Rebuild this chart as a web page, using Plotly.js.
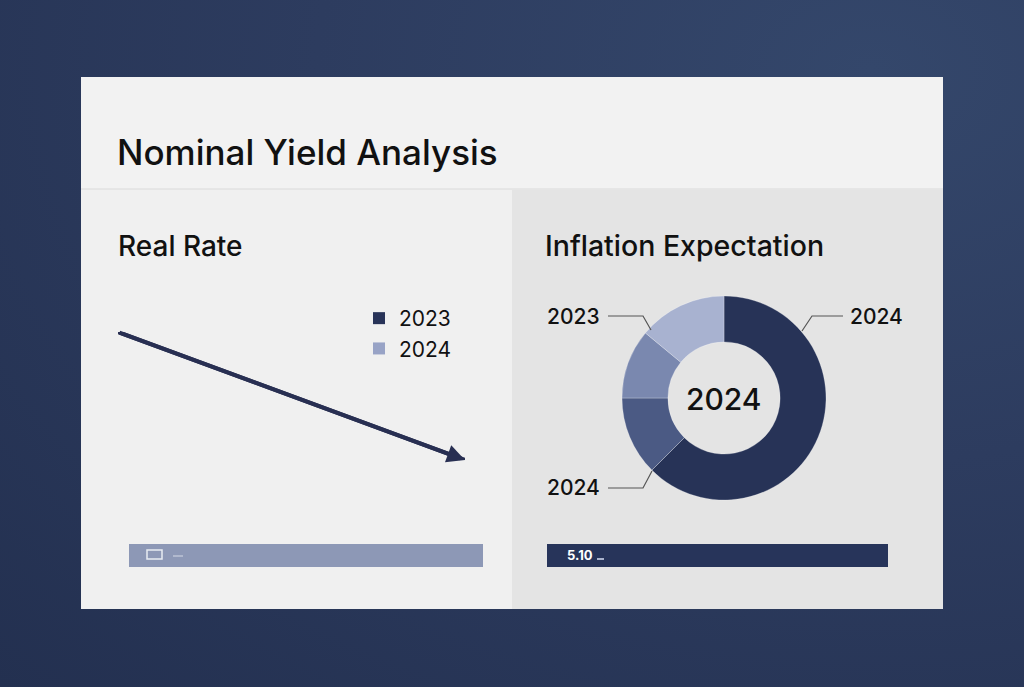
<!DOCTYPE html>
<html>
<head>
<meta charset="utf-8">
<script src="https://cdn.plot.ly/plotly-3.0.1.min.js"></script>
<style>
  html, body { margin: 0; padding: 0; }
  body {
    width: 1024px; height: 687px; overflow: hidden;
    background: radial-gradient(ellipse at 85% 10%, #34476b 0%, #2d3c5f 45%, #233050 100%);
  }
  #chart { width: 1024px; height: 687px; }
</style>
</head>
<body>
<div id="chart"></div>
<script>
// real rate trend (left panel)
const rateX = [1, 2];
const rateY = [2.6, 0.8];
const legendYears = ["2023", "2024"];
const legendColors = ["#283358", "#98a3c6"];

// inflation expectation donut (right panel)
const sliceLabels = ["2024 H2", "2024 H1", "2023 H2", "2023 H1"];
const sliceValues = [62.5, 12.5, 11, 14];
const sliceColors = ["#273357", "#4b5a84", "#7a88af", "#a8b2d0"];
const calloutText = ["2024", "2023", "2024"];
const centerText = "2024";
const barText = "5.10";

const W = 1024, H = 687;
function px(x) { return x / W; }
function py(y) { return 1 - y / H; }

function generateChart() {

    let font = 'Inter, "Noto Sans", sans-serif';

    let rateLine = {
        x: rateX,
        y: rateY,
        type: 'scatter',
        mode: 'lines',
        line: { color: '#282f52', width: 4 },
        showlegend: false,
        hoverinfo: 'skip',
        xaxis: 'x',
        yaxis: 'y'
    };

    let legendTraces = legendYears.map((yr, i) => ({
        x: [null],
        y: [null],
        type: 'bar',
        name: yr,
        marker: { color: legendColors[i] },
        xaxis: 'x2',
        yaxis: 'y2'
    }));

    let donut = {
        type: 'pie',
        labels: sliceLabels,
        values: sliceValues,
        hole: 0.55,
        sort: false,
        direction: 'clockwise',
        rotation: 0,
        textinfo: 'none',
        hoverinfo: 'label+value',
        showlegend: false,
        marker: { colors: sliceColors, line: { color: 'rgba(255,255,255,0.25)', width: 1 } },
        domain: { x: [px(622), px(826)], y: [py(500), py(296)] }
    };

    let shapes = [
        // card
        { type: 'rect', xref: 'paper', yref: 'paper', x0: px(81), x1: px(943), y0: py(609), y1: py(77),
          fillcolor: '#f0f0f0', line: { width: 0 }, layer: 'below' },
        // header
        { type: 'rect', xref: 'paper', yref: 'paper', x0: px(81), x1: px(943), y0: py(189), y1: py(77),
          fillcolor: '#f2f2f2', line: { width: 0 }, layer: 'below' },
        { type: 'line', xref: 'paper', yref: 'paper', x0: px(81), x1: px(943), y0: py(189), y1: py(189),
          line: { color: '#e2e2e2', width: 1.5 }, layer: 'below' },
        // right panel
        { type: 'rect', xref: 'paper', yref: 'paper', x0: px(512), x1: px(943), y0: py(609), y1: py(190),
          fillcolor: '#e4e4e4', line: { width: 0 }, layer: 'below' },
        // bottom bars
        { type: 'rect', xref: 'paper', yref: 'paper', x0: px(129), x1: px(483), y0: py(567), y1: py(544),
          fillcolor: '#8d98b6', line: { width: 0 }, layer: 'below' },
        { type: 'rect', xref: 'paper', yref: 'paper', x0: px(147), x1: px(162), y0: py(559), y1: py(550),
          fillcolor: 'rgba(0,0,0,0)', line: { color: '#e8ebf2', width: 1.5 } },
        { type: 'line', xref: 'paper', yref: 'paper', x0: px(173), x1: px(183), y0: py(556), y1: py(556),
          line: { color: '#d5dae6', width: 1 } },
        { type: 'rect', xref: 'paper', yref: 'paper', x0: px(547), x1: px(888), y0: py(567), y1: py(544),
          fillcolor: '#27345a', line: { width: 0 }, layer: 'below' },
        { type: 'line', xref: 'paper', yref: 'paper', x0: px(597), x1: px(604), y0: py(559), y1: py(559),
          line: { color: '#aab3cc', width: 2 } },
        // leader lines
        { type: 'path', xref: 'paper', yref: 'paper',
          path: `M ${px(843)},${py(316)} L ${px(812)},${py(316)} L ${px(802)},${py(331)}`,
          line: { color: '#555', width: 1.2 } },
        { type: 'path', xref: 'paper', yref: 'paper',
          path: `M ${px(608)},${py(316)} L ${px(643)},${py(316)} L ${px(651)},${py(330)}`,
          line: { color: '#555', width: 1.2 } },
        { type: 'path', xref: 'paper', yref: 'paper',
          path: `M ${px(608)},${py(488)} L ${px(643)},${py(488)} L ${px(652)},${py(471)}`,
          line: { color: '#555', width: 1.2 } }
    ];

    function label(text, x, y, size, anchor, color, weight) {
        return {
            text: text, xref: 'paper', yref: 'paper', x: px(x), y: py(y),
            xanchor: anchor || 'left', yanchor: 'middle', showarrow: false,
            font: { family: font, size: size, color: color || '#111', weight: weight || 500 }
        };
    }

    let annotations = [
        label('Nominal Yield Analysis', 115, 152, 35),
        label('Real Rate', 116, 246, 28),
        label('Inflation Expectation', 543, 246, 28.5),
        label(calloutText[0], 848, 316, 21),
        label(calloutText[1], 545, 316, 21),
        label(calloutText[2], 545, 488, 21),
        label(centerText, 724, 399, 30, 'center'),
        label(barText, 565, 555, 13, 'left', '#ffffff', 700),
        // arrowhead at the end of the trend line
        {
            x: rateX[1], y: rateY[1], ax: rateX[0], ay: rateY[0],
            xref: 'x', yref: 'y', axref: 'x', ayref: 'y',
            text: '', showarrow: true, arrowhead: 2, arrowsize: 0.9, arrowwidth: 4,
            arrowcolor: '#282f52', standoff: 0
        }
    ];

    let layout = {
        width: W,
        height: H,
        margin: { l: 0, r: 0, t: 0, b: 0 },
        paper_bgcolor: 'rgba(0,0,0,0)',
        plot_bgcolor: 'rgba(0,0,0,0)',
        font: { family: font },
        xaxis: { domain: [px(118), px(465)], range: [rateX[0], rateX[1]], visible: false, fixedrange: true },
        yaxis: { domain: [py(460), py(332)], range: [rateY[1], rateY[0]], visible: false, fixedrange: true },
        xaxis2: { domain: [0, 0.01], visible: false, anchor: 'y2' },
        yaxis2: { domain: [0, 0.01], visible: false, anchor: 'x2' },
        showlegend: true,
        legend: {
            x: px(359), y: py(298), xanchor: 'left', yanchor: 'top',
            bgcolor: 'rgba(0,0,0,0)',
            font: { family: font, size: 21, color: '#111' },
            itemclick: false, itemdoubleclick: false
        },
        shapes: shapes,
        annotations: annotations
    };

    Plotly.newPlot('chart', [rateLine, ...legendTraces, donut], layout, { displayModeBar: false, staticPlot: true });
}

generateChart();
</script>
</body>
</html>
